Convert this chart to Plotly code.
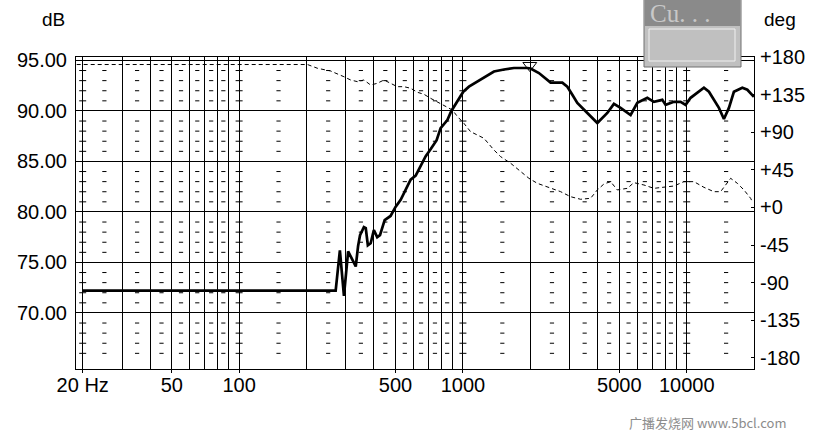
import plotly.graph_objects as go

# magnitude response (Hz, dB)
mag_freq = [20, 270, 282, 294, 307, 315, 332, 340, 347, 361, 368, 376, 387, 400, 414, 426,
            447, 475, 500, 527, 555, 584, 615, 647, 681, 717, 763, 795, 852, 888, 944, 1004,
            1064, 1200, 1376, 1525, 1690, 1940, 2007, 2186, 2465, 2781, 2928, 3083, 3245,
            3597, 3987, 4418, 4728, 5064, 5614, 6016, 6667, 7135, 7780, 8049, 8766, 9392,
            9887, 10410, 11155, 11940, 12570, 13230, 13930, 14665, 15440, 16250, 17720,
            18660, 19970]
mag_db = [72.2, 72.2, 76.2, 71.7, 76.1, 75.6, 74.6, 76.6, 77.7, 78.5, 78.4, 76.7, 76.9, 78.2,
          77.5, 77.7, 79.2, 79.6, 80.5, 81.2, 82.2, 83.2, 83.6, 84.5, 85.5, 86.2, 87.1, 88.3,
          89.1, 90.0, 90.9, 91.9, 92.4, 93.1, 93.9, 94.1, 94.25, 94.25, 94.2, 93.75, 92.8,
          92.8, 92.4, 91.6, 90.8, 89.8, 88.8, 89.8, 90.7, 90.3, 89.6, 90.8, 91.3, 90.9, 91.1,
          90.6, 90.9, 90.9, 90.6, 91.3, 91.8, 92.3, 91.9, 91.1, 90.3, 89.2, 90.3, 91.9, 92.3,
          92.1, 91.4]

# phase response (Hz, deg)
phase_freq = [18.8, 202, 224, 256, 294, 315, 338, 361, 387, 414, 444, 475, 509, 545, 584,
              626, 670, 717, 769, 852, 897, 944, 1010, 1082, 1241, 1376, 1474, 1634, 1811,
              1972, 2150, 2465, 2733, 3029, 3357, 3721, 3987, 4266, 4571, 4896, 5427, 5808,
              6439, 7135, 7909, 8766, 9716, 10770, 11940, 13230, 14170, 14920, 15720, 16840,
              18020, 19300, 19640]
phase_deg = [171, 171, 166.5, 163.3, 156.4, 152.5, 150.5, 152.5, 146.5, 148.5, 152.5, 148.5,
             144.5, 144.5, 142.6, 137.8, 135.4, 130.6, 126.5, 120.6, 116.6, 109, 100.7, 90.7,
             82.8, 68.8, 60.8, 52.9, 42.8, 34.9, 28.9, 22.9, 18.9, 12.9, 9.8, 11, 21, 28.1,
             30.9, 21, 22.9, 29.7, 26.9, 22.9, 24.1, 25.7, 30.9, 30.9, 24.1, 18.9, 18.9, 26.9,
             34.9, 28.9, 21, 11, 6.9]

cursor_freq = [1990]
cursor_db = [94.5]

x_ticks = [20, 50, 100, 500, 1000, 5000, 10000]
x_ticktext = ["20 Hz", "50", "100", "500", "1000", "5000", "10000"]
x_lines = [30, 40, 60, 70, 80, 90, 200, 300, 400, 600, 700, 800, 900,
           2000, 3000, 4000, 6000, 7000, 8000, 9000]
x_dotcols = [25, 35, 45, 55, 65, 75, 85, 150, 250, 350, 450, 550, 650, 750, 850,
             1500, 2500, 3500, 4500, 5500, 6500, 7500, 8500, 15000]
x_tickcols = [20, 100, 1000, 10000]
db_ticks = [70, 75, 80, 85, 90, 95]
db_ticktext = ["70.00", "75.00", "80.00", "85.00", "90.00", "95.00"]
deg_ticks = [-180, -135, -90, -45, 0, 45, 90, 135, 180]
deg_ticktext = ["-180", "-135", "-90", "-45", "+0", "+45", "+90", "+135", "+180"]

FONT = "Liberation Sans, Arial, sans-serif"

# plot area in pixels
L, R, T, B = 76, 754, 57, 369


def px(x):
    return (x - L) / (R - L)


def py(y):
    return (B - y) / (B - T)


fig = go.Figure()

# dotted minor grid (1 dB rows)
dot_rows = [d for d in range(66, 95) if d % 5 != 0]
gx, gy = [], []
for f in x_dotcols:
    for d in dot_rows:
        gx.append(f)
        gy.append(d)
fig.add_trace(go.Scatter(x=gx, y=gy, mode="markers", hoverinfo="skip",
                         marker=dict(symbol="line-ew", size=3, color="black",
                                     line=dict(color="black", width=1))))
tx, ty = [], []
for f in x_tickcols:
    for d in dot_rows:
        tx.append(f)
        ty.append(d)
fig.add_trace(go.Scatter(x=tx, y=ty, mode="markers", hoverinfo="skip",
                         marker=dict(symbol="line-ew", size=5, color="black",
                                     line=dict(color="black", width=1))))

# phase (dashed, right axis)
fig.add_trace(go.Scatter(x=phase_freq, y=phase_deg, yaxis="y2", mode="lines",
                         line=dict(color="black", width=1, dash="4px,3px")))

# magnitude
fig.add_trace(go.Scatter(x=mag_freq, y=mag_db, mode="lines",
                         line=dict(color="black", width=2.7)))

# cursor marker
fig.add_trace(go.Scatter(x=cursor_freq, y=cursor_db, mode="markers",
                         marker=dict(symbol="triangle-down-open", size=12, color="black",
                                     line=dict(color="black", width=1))))

fig.update_layout(
    width=821, height=431,
    margin=dict(l=L, r=821 - R, t=T, b=431 - B, pad=0),
    paper_bgcolor="white", plot_bgcolor="white",
    showlegend=False,
    font=dict(family=FONT, size=20, color="black"),
    xaxis=dict(type="log", range=[1.27109, 4.3007],
               tickvals=x_ticks, ticktext=x_ticktext,
               ticks="outside", ticklen=3, tickcolor="black",
               showgrid=True, gridcolor="black", gridwidth=1,
               minor=dict(tickvals=x_lines, showgrid=True, gridcolor="black",
                          gridwidth=1, ticks=""),
               showline=True, linecolor="black", linewidth=1, mirror=True,
               zeroline=False, ticklabelstandoff=-5),
    yaxis=dict(range=[64.45, 95.34], tickvals=db_ticks, ticktext=db_ticktext,
               ticks="", showgrid=True, gridcolor="black", gridwidth=1,
               showline=True, linecolor="black", linewidth=1, mirror=True,
               zeroline=False, ticklabelstandoff=4),
    yaxis2=dict(range=[-193.2, 180], overlaying="y", side="right",
                tickvals=deg_ticks, ticktext=deg_ticktext,
                ticks="inside", ticklen=3, tickcolor="black",
                showgrid=False, zeroline=False, showline=False,
                ticklabelstandoff=5),
)

# axis unit labels
fig.add_annotation(x=px(53), y=py(20), xref="paper", yref="paper", text="dB",
                   xanchor="center", yanchor="middle", showarrow=False, font=dict(size=19))
fig.add_annotation(x=px(780), y=py(20), xref="paper", yref="paper", text="deg",
                   xanchor="center", yanchor="middle", showarrow=False, font=dict(size=19))

# watermark
fig.add_annotation(x=px(707), y=py(422), xref="paper", yref="paper",
                   xanchor="center", yanchor="middle",
                   text="广播发烧网 www.5bcl.com", showarrow=False,
                   font=dict(family="Noto Sans CJK SC, sans-serif", size=13, color="#8c8c8c"))

# little "Cu..." cursor window
fig.add_shape(type="rect", xref="paper", yref="paper", layer="above",
              x0=px(644), x1=px(741), y0=py(67), y1=py(-2),
              fillcolor="#c0c0c0", line=dict(color="#707070", width=1))
fig.add_shape(type="rect", xref="paper", yref="paper", layer="above",
              x0=px(645), x1=px(740), y0=py(26), y1=py(-2),
              fillcolor="#8a8a8a", line=dict(width=0))
fig.add_shape(type="rect", xref="paper", yref="paper", layer="above",
              x0=px(649), x1=px(735), y0=py(61), y1=py(29),
              fillcolor="#c0c0c0", line=dict(color="#f0f0f0", width=1))
fig.add_annotation(x=px(648), y=py(13), xref="paper", yref="paper",
                   xanchor="left", yanchor="middle",
                   text="Cu. . .", showarrow=False,
                   font=dict(family="Liberation Serif, serif", size=25, color="#c8c8c8"))

fig.write_html("out.html", config={"displayModeBar": False},
               post_script="document.body.style.margin='0';")
